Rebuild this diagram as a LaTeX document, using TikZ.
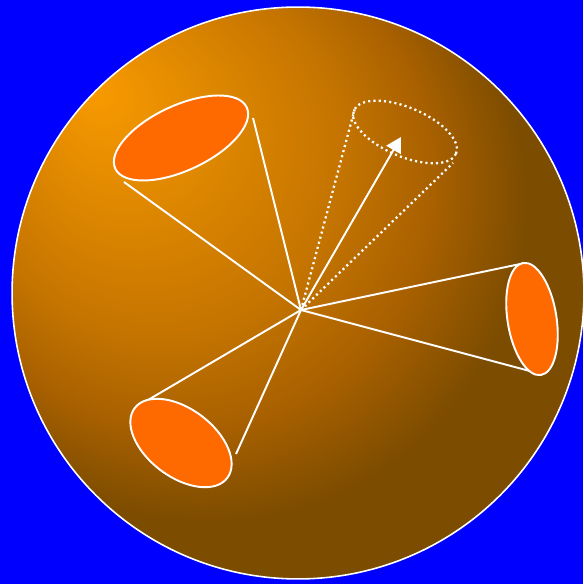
\documentclass[tikz,border=0pt]{standalone}
\usepackage{xcolor}
\usepackage{tikz}
\usetikzlibrary{shapes.geometric, arrows.meta}

\definecolor{backblue}{HTML}{0000FF}
\definecolor{mouthorange}{HTML}{FF6A00}
\definecolor{glowA}{HTML}{F89A00}
\definecolor{glowB}{HTML}{C47400}
\definecolor{glowC}{HTML}{A86000}
\definecolor{glowD}{HTML}{7C4C00}
\pgfdeclareradialshading{sphereglow}{\pgfpoint{-18bp}{18bp}}{%
  color(0bp)=(glowA); color(16bp)=(glowB); color(22bp)=(glowC);
  color(28bp)=(glowD); color(50bp)=(glowD)}

\begin{document}
\begin{tikzpicture}[
x=0.02cm, y=0.02cm,
    ray/.style={draw=white, line width=1.1pt},
    dotray/.style={draw=white, line width=1.3pt, dash pattern=on 1.2pt off 1.8pt},
    mouth/.style={ellipse, draw=white, line width=1.1pt, fill=mouthorange, inner sep=0pt},
    ghost/.style={ellipse, draw=white, line width=1.3pt, dash pattern=on 1.2pt off 1.8pt, inner sep=0pt}
]
    \useasboundingbox (0,0) rectangle (583,584);
    \fill[backblue] (0,0) rectangle (583,584);

    % Sphere
    \shade[shading=sphereglow] (298,291) circle (5.72cm);
    \draw[white, line width=0.9pt] (298,291) circle (5.72cm);

    % Apex and rim points
    \coordinate (apex) at (301,274);
    \coordinate (ulA) at (124,402);
    \coordinate (ulB) at (253,466);
    \coordinate (upA) at (355,476);
    \coordinate (upB) at (453,421);
    \coordinate (aim) at (401,447);
    \coordinate (rtA) at (525,321);
    \coordinate (rtB) at (541,210);
    \coordinate (llA) at (148,184);
    \coordinate (llB) at (236,130);

    % Cone sides
    \draw[ray] (apex) -- (ulA);
    \draw[ray] (apex) -- (ulB);
    \draw[dotray] (apex) -- (upA);
    \draw[dotray] (apex) -- (upB);
    \draw[ray] (apex) -- (rtA);
    \draw[ray] (apex) -- (rtB);
    \draw[ray] (apex) -- (llA);
    \draw[ray] (apex) -- (llB);

    % Cone mouths
    \node[mouth, minimum width=2.9cm, minimum height=1.3cm, rotate=25] (ulmouth) at (181,446) {};
    \node[ghost, minimum width=2.22cm, minimum height=0.98cm, rotate=-23] (upmouth) at (405,452) {};
    \node[mouth, minimum width=0.98cm, minimum height=2.27cm, rotate=9] (rtmouth) at (532,265) {};
    \node[mouth, minimum width=2.32cm, minimum height=1.36cm, rotate=-37] (llmouth) at (181,141) {};

    % Axis arrow
    \draw[ray, -{Triangle[length=0.3cm, width=0.33cm]}] (apex) -- (aim);

\end{tikzpicture}
\end{document}
